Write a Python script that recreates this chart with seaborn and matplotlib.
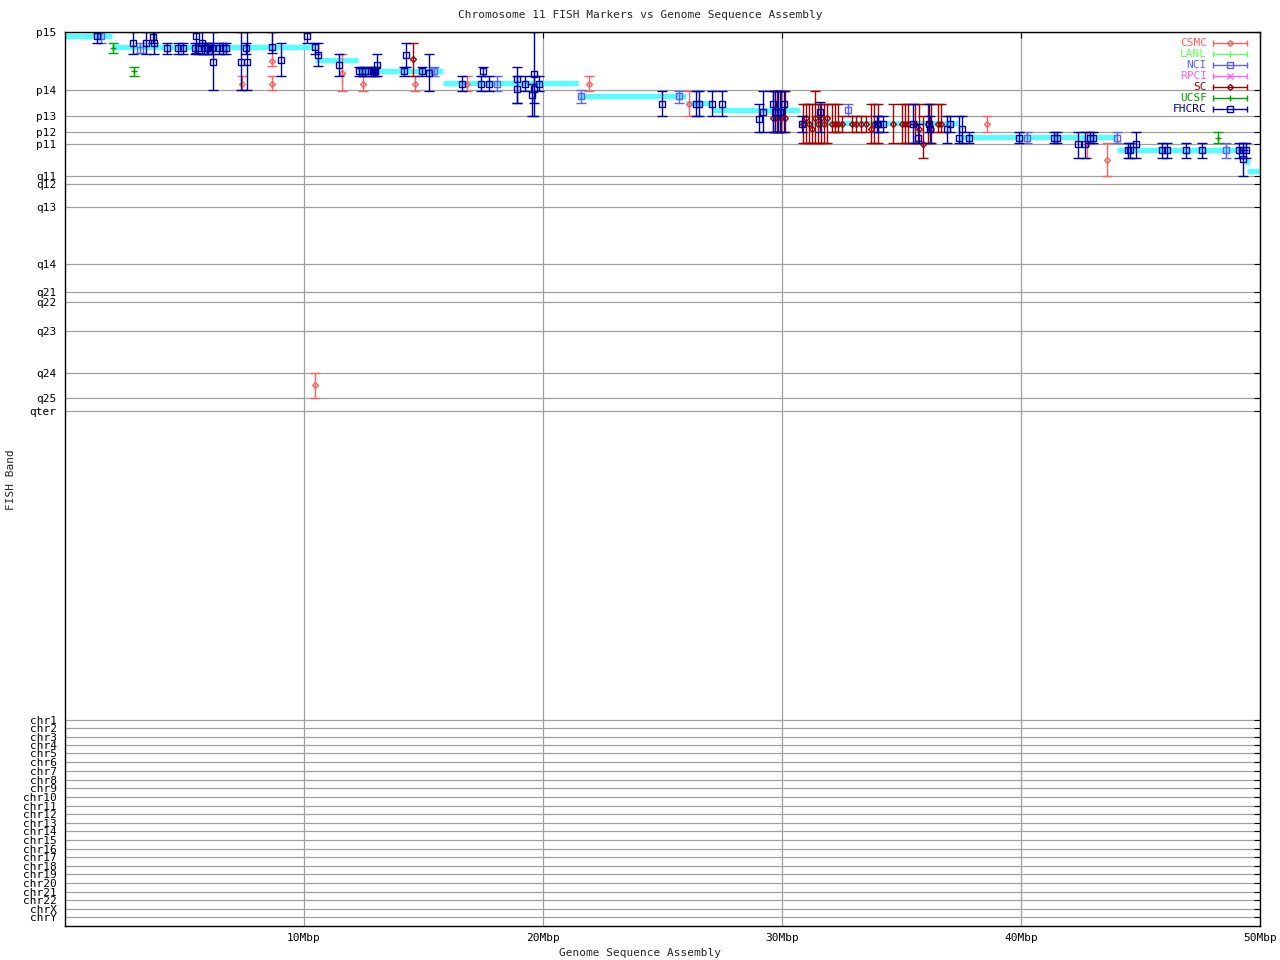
import numpy as np
import pandas as pd
import matplotlib
matplotlib.use("Agg")
import matplotlib.pyplot as plt
import seaborn as sns

# y axis: position along chromosome 11 (Mbp-like band coordinate), top = p15
band_labels = ['p15', 'p14', 'p13', 'p12', 'p11', 'q11', 'q12', 'q13', 'q14',
               'q21', 'q22', 'q23', 'q24', 'q25', 'qter']
band_ticks = [0, 20.8, 29.8, 35.6, 39.8, 51.3, 54.1, 62.3, 82.7,
              92.7, 96.2, 106.6, 121.6, 130.5, 135.2]
chr_labels = ['chr%d' % i for i in range(1, 23)] + ['chrX', 'chrY']
chr_ticks = [245.5, 248.3, 251.4, 254.3, 257.4, 260.6, 263.6, 266.8, 269.7, 273.0,
             276.1, 278.9, 282.1, 285.2, 288.3, 291.5, 294.3, 297.5, 300.3, 303.6,
             306.8, 309.7, 312.9, 315.8]
y_bottom = 319.0

x_ticks = [10, 20, 30, 40, 50]
x_labels = ['10Mbp', '20Mbp', '30Mbp', '40Mbp', '50Mbp']

# assembly band segments (cyan)
seg_start = [0, 1.97, 10.46, 12.26, 15.82, 21.46, 25.98, 27.07, 30.75, 37.36, 44.02, 49.37, 49.46]
seg_end = [1.97, 10.46, 12.26, 15.82, 21.46, 25.98, 27.07, 30.75, 37.36, 44.02, 49.37, 49.58, 50.1]
seg_pos = [1.5, 5.5, 9.9, 13.9, 18.3, 23.0, 25.3, 28.0, 32.6, 37.5, 42.2, 46.3, 49.6]

# FISH markers per lab: x (Mbp), band position, band range low/high
csmc_x = [7.41, 8.65, 8.65, 10.47, 11.60, 12.48, 14.66, 16.81, 21.94, 26.12, 38.56, 42.76, 43.58]
csmc_y = [18.4, 10.4, 18.4, 125.9, 14.5, 18.4, 18.4, 18.4, 18.4, 25.6, 32.7, 40.1, 45.7]
csmc_lo = [15.7, 0, 15.7, 121.6, 7.7, 15.7, 15.7, 15.7, 15.7, 21.1, 30.0, 35.6, 39.7]
csmc_hi = [20.8, 12.2, 20.8, 130.5, 21.1, 21.1, 21.1, 21.1, 21.1, 29.8, 35.6, 44.8, 51.4]

lanl_x, lanl_y, lanl_lo, lanl_hi = [], [], [], []

nci_x = [1.51, 3.15, 15.45, 18.06, 21.59, 25.70, 32.77, 40.26, 44.00, 48.57]
nci_y = [1.5, 6.6, 13.9, 18.4, 22.8, 22.8, 28.0, 37.7, 37.7, 42.2]
nci_lo = [0, 3.9, 12.4, 15.7, 20.8, 21.1, 25.8, 35.6, 35.6, 39.7]
nci_hi = [3.8, 7.6, 15.7, 21.1, 25.2, 25.2, 30.0, 39.7, 39.7, 44.8]

rpci_x, rpci_y, rpci_lo, rpci_hi = [], [], [], []

sc_x = [14.57, 29.61, 29.79, 29.96, 30.13, 30.88, 31.00, 31.13, 31.26, 31.38,
        31.51, 31.63, 31.76, 31.88, 32.09, 32.22, 32.34, 32.51, 32.93, 33.10,
        33.31, 33.51, 33.72, 33.85, 34.02, 34.64, 35.02, 35.15, 35.27, 35.56,
        35.73, 35.90, 36.11, 36.23, 36.53, 36.65]
sc_y = [9.7, 30.6, 30.6, 30.6, 30.6, 32.7, 30.6, 32.7, 34.7, 30.6,
        32.7, 30.6, 32.7, 30.6, 32.7, 32.7, 32.7, 32.7, 32.7, 32.7,
        32.7, 32.7, 34.7, 32.7, 32.7, 32.7, 32.7, 32.7, 32.7, 32.7,
        34.7, 40.1, 32.7, 34.7, 32.7, 32.7]
sc_lo = [3.8, 21.1, 21.1, 21.1, 21.1, 25.8, 25.8, 25.8, 25.8, 21.1,
         25.8, 25.8, 25.8, 25.8, 25.8, 25.8, 25.8, 30.0, 30.0, 30.0,
         30.0, 30.0, 25.8, 25.8, 25.8, 25.8, 25.8, 25.8, 25.8, 25.8,
         25.8, 30.0, 25.8, 25.8, 25.8, 25.8]
sc_hi = [15.7, 35.6, 35.6, 35.6, 35.6, 39.7, 39.7, 39.7, 39.7, 39.7,
         39.7, 39.7, 39.7, 39.7, 35.6, 35.6, 35.6, 35.6, 35.6, 35.6,
         35.6, 35.6, 39.7, 39.7, 39.7, 39.7, 39.7, 39.7, 39.7, 39.7,
         39.7, 44.8, 39.7, 39.7, 35.6, 35.6]

ucsf_x = [2.02, 2.90, 48.26]
ucsf_y = [5.7, 14.0, 37.7]
ucsf_lo = [3.9, 12.4, 35.6]
ucsf_hi = [7.6, 15.6, 39.7]

fhcrc_x = [1.33, 2.86, 3.40, 3.70, 3.72, 4.27, 4.72, 4.95, 5.44, 5.49,
           5.56, 5.72, 5.82, 5.93, 6.00, 6.14, 6.21, 6.46, 6.62, 6.72,
           7.38, 7.59, 7.63, 8.65, 9.05, 10.13, 10.47, 10.60, 11.48, 12.31,
           12.41, 12.55, 12.79, 12.89, 12.97, 13.07, 14.20, 14.28, 14.95, 15.24,
           16.62, 17.42, 17.50, 17.75, 18.90, 18.90, 19.26, 19.55, 19.64, 19.64,
           19.85, 24.99, 26.40, 26.51, 27.08, 27.50, 29.02, 29.22, 29.64, 29.71,
           29.83, 29.92, 30.10, 30.82, 31.59, 33.96, 34.02, 34.24, 35.49, 35.68,
           36.16, 36.19, 36.89, 37.03, 37.42, 37.52, 37.84, 39.93, 41.39, 41.49,
           42.40, 42.68, 42.89, 43.00, 44.46, 44.56, 44.81, 45.91, 46.10, 46.90,
           47.56, 49.13, 49.28, 49.28, 49.41]
fhcrc_y = [1.5, 3.8, 3.8, 1.8, 3.8, 5.7, 5.7, 5.7, 5.7, 1.5,
           5.7, 3.8, 5.7, 5.7, 5.7, 5.7, 10.6, 5.7, 5.7, 5.7,
           10.6, 5.7, 10.6, 5.5, 9.9, 1.5, 5.5, 8.1, 11.6, 13.9,
           13.9, 13.9, 13.9, 13.9, 13.9, 11.6, 13.9, 8.1, 13.9, 14.5,
           18.4, 18.4, 13.9, 18.4, 16.6, 20.5, 18.4, 22.6, 14.9, 20.5,
           18.4, 25.6, 25.6, 25.6, 25.6, 25.6, 30.9, 28.4, 25.6, 28.4,
           28.4, 28.4, 25.6, 32.7, 28.4, 32.7, 32.7, 32.7, 32.7, 37.7,
           32.7, 34.7, 34.7, 32.7, 37.7, 34.7, 37.7, 37.7, 37.7, 37.7,
           40.1, 40.1, 37.7, 37.7, 42.2, 42.2, 40.1, 42.2, 42.2, 42.2,
           42.2, 42.2, 42.2, 45.4, 42.2]
fhcrc_lo = [0, 0, 0, 0, 0, 3.8, 3.8, 3.8, 3.8, 0,
            3.8, 0, 3.8, 3.8, 3.8, 3.8, 0, 3.8, 3.8, 3.8,
            0, 3.8, 0, 0, 3.8, 0, 3.8, 3.8, 7.7, 12.4,
            12.4, 12.4, 12.4, 12.4, 12.4, 7.7, 12.4, 3.8, 12.4, 7.7,
            15.7, 15.7, 12.4, 15.7, 12.4, 15.7, 15.7, 18.4, 0, 15.7,
            15.7, 21.1, 21.1, 21.1, 21.1, 21.1, 25.8, 21.1, 21.1, 21.1,
            21.1, 21.1, 21.1, 30.0, 25.0, 30.0, 30.0, 30.0, 25.8, 32.7,
            25.8, 30.0, 30.0, 30.0, 30.0, 30.0, 35.6, 35.6, 35.6, 35.6,
            35.6, 35.6, 35.6, 35.6, 39.7, 39.7, 35.6, 39.7, 39.7, 39.7,
            39.7, 39.7, 39.7, 42.2, 39.7]
fhcrc_hi = [3.8, 7.7, 7.7, 3.8, 7.7, 7.7, 7.7, 7.7, 7.7, 7.5,
            7.7, 7.7, 7.7, 7.7, 7.7, 7.7, 20.8, 7.7, 7.7, 7.7,
            20.8, 7.7, 20.8, 7.5, 15.6, 3.8, 7.7, 12.2, 15.7, 15.7,
            15.7, 15.7, 15.7, 15.7, 15.7, 15.7, 15.7, 12.4, 15.7, 21.1,
            21.1, 21.1, 15.7, 21.1, 25.2, 25.2, 21.1, 29.8, 29.8, 25.2,
            21.1, 29.8, 29.8, 29.8, 29.8, 29.8, 35.6, 35.6, 35.6, 35.6,
            35.6, 35.6, 35.6, 35.6, 35.6, 35.6, 35.6, 35.6, 39.7, 39.7,
            35.6, 39.7, 39.7, 35.6, 39.7, 39.7, 39.7, 39.7, 39.7, 39.7,
            44.8, 44.8, 39.7, 39.7, 44.8, 44.8, 44.8, 44.8, 44.8, 44.8,
            44.8, 44.8, 44.8, 51.4, 44.8]

labs = ['CSMC', 'LANL', 'NCI', 'RPCI', 'SC', 'UCSF', 'FHCRC']
lab_colors = ['#ff5f5f', '#5fff5f', '#5f5fff', '#ff5fff', '#a00000', '#00a000', '#0000a0']
lab_markers = ['D', '+', 's', 'x', 'D', '+', 's']
lab_msize = [3.0, 5, 4.8, 4, 3.0, 5, 4.8]
lab_data = [
    (csmc_x, csmc_y, csmc_lo, csmc_hi),
    (lanl_x, lanl_y, lanl_lo, lanl_hi),
    (nci_x, nci_y, nci_lo, nci_hi),
    (rpci_x, rpci_y, rpci_lo, rpci_hi),
    (sc_x, sc_y, sc_lo, sc_hi),
    (ucsf_x, ucsf_y, ucsf_lo, ucsf_hi),
    (fhcrc_x, fhcrc_y, fhcrc_lo, fhcrc_hi),
]

sns.set_style('white')
plt.rcParams['font.family'] = ['DejaVu Sans Mono']

fig = plt.figure(figsize=(12.8, 9.6), dpi=100)
ax = fig.add_axes([65 / 1280, 34 / 960, 1195 / 1280, 894 / 960])

# cyan assembly segments
seg_df = pd.DataFrame({
    'seg': np.repeat(np.arange(len(seg_start)), 2),
    'x': np.ravel(np.column_stack([seg_start, seg_end])),
    'y': np.repeat(seg_pos, 2),
})
sns.lineplot(data=seg_df, x='x', y='y', units='seg', estimator=None, sort=False,
             color='#55ffff', lw=3.8, ax=ax, legend=False, zorder=2)
for ln in ax.lines:
    ln.set_solid_capstyle('butt')

# error bars per lab
for i, (lab, (xs, ys, lo, hi)) in enumerate(zip(labs, lab_data)):
    if len(xs) == 0:
        continue
    ys = np.array(ys)
    yerr = [ys - np.array(lo), np.array(hi) - ys]
    ax.errorbar(xs, ys, yerr=yerr, fmt=lab_markers[i], color=lab_colors[i],
                mfc='none', mec=lab_colors[i], ms=lab_msize[i], mew=1.0,
                elinewidth=1.0, capsize=3.6, capthick=1.0, zorder=3 + i)

ax.set_xlim(0, 50)
ax.set_ylim(y_bottom, 0)
ax.set_xticks(x_ticks)
ax.set_xticklabels(x_labels)
ax.set_yticks(band_ticks + chr_ticks)
ax.set_yticklabels(band_labels + chr_labels)
ax.set_xlabel('')
ax.set_ylabel('')
ax.grid(True, color='#a0a0a0', lw=0.9)
ax.set_axisbelow(True)
ax.tick_params(direction='in', length=4, width=0.8, top=True, right=True,
               labelsize=8, colors='black')
ax.tick_params(axis='y', pad=6)
ax.tick_params(axis='x', pad=5)
for sp in ax.spines.values():
    sp.set_color('black')
    sp.set_linewidth(1.0)
    sp.set_zorder(20)

# legend (gnuplot style, text right-aligned then sample line)
for i, lab in enumerate(labs):
    yy = 1 - (11.3 + 10.9 * i) / 894
    ax.text(0.9556, yy, lab, color=lab_colors[i], ha='right', va='center',
            fontsize=8, transform=ax.transAxes)
    ax.plot([0.9609, 0.9889], [yy, yy], color=lab_colors[i], lw=1.0,
            transform=ax.transAxes, clip_on=False, zorder=15)
    ax.plot([0.9609, 0.9889], [yy, yy], ls='none', marker='|', ms=5, mew=1.0,
            color=lab_colors[i], transform=ax.transAxes, clip_on=False, zorder=15)
    ax.plot([0.9749], [yy], ls='none', marker=lab_markers[i], ms=lab_msize[i],
            mfc='none', mec=lab_colors[i], mew=1.0, transform=ax.transAxes,
            clip_on=False, zorder=15)

fig.text(0.5, 1 - 15 / 960, 'Chromosome 11 FISH Markers vs Genome Sequence Assembly',
         ha='center', va='center', fontsize=8)
fig.text(0.5, 1 - 953 / 960, 'Genome Sequence Assembly', ha='center', va='center', fontsize=8)
fig.text(11 / 1280, 0.5, 'FISH Band', rotation=90, ha='center', va='center', fontsize=8)

fig.savefig('out.png', dpi=100)
